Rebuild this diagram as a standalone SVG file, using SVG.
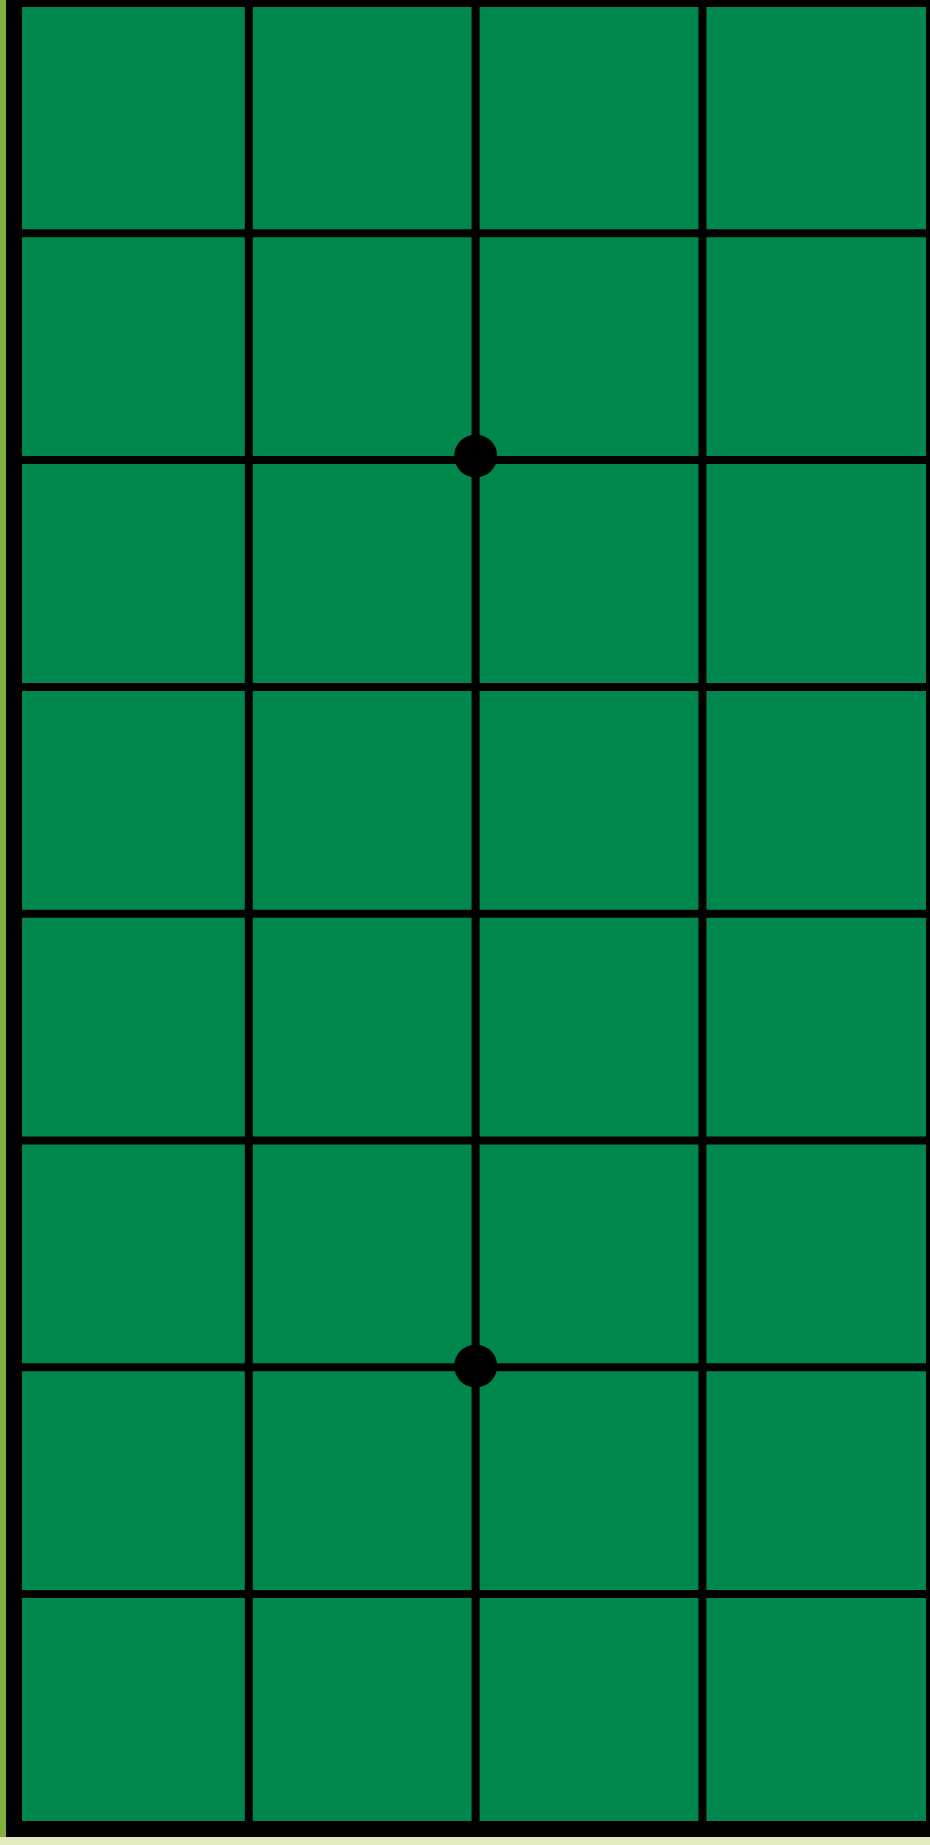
<svg xmlns="http://www.w3.org/2000/svg" width="930" height="1845" viewBox="0 0 930 1845">
<style>
.ln{stroke:#000;stroke-width:8;fill:none}
</style>
<rect x="0" y="0" width="930" height="1845" fill="#E2EBC0"/>
<rect x="0" y="0" width="6" height="1837" fill="#82B03C"/>
<g id="board">
<rect x="14" y="-1" width="920" height="1830" fill="#00874E" stroke="#000" stroke-width="16"/>
</g>
<g id="grid">
<line class="ln" x1="248.8" y1="0" x2="248.8" y2="1822"/>
<line class="ln" x1="475.6" y1="0" x2="475.6" y2="1822"/>
<line class="ln" x1="702.4" y1="0" x2="702.4" y2="1822"/>
<line class="ln" x1="22" y1="233.3" x2="930" y2="233.3"/>
<line class="ln" x1="22" y1="460.1" x2="930" y2="460.1"/>
<line class="ln" x1="22" y1="686.9" x2="930" y2="686.9"/>
<line class="ln" x1="22" y1="913.7" x2="930" y2="913.7"/>
<line class="ln" x1="22" y1="1140.5" x2="930" y2="1140.5"/>
<line class="ln" x1="22" y1="1367.3" x2="930" y2="1367.3"/>
<line class="ln" x1="22" y1="1594.1" x2="930" y2="1594.1"/>
</g>
<g id="dots">
<circle cx="475.7" cy="456" r="21.5" fill="#000"/>
<circle cx="475.7" cy="1366" r="21.5" fill="#000"/>
</g>
</svg>
